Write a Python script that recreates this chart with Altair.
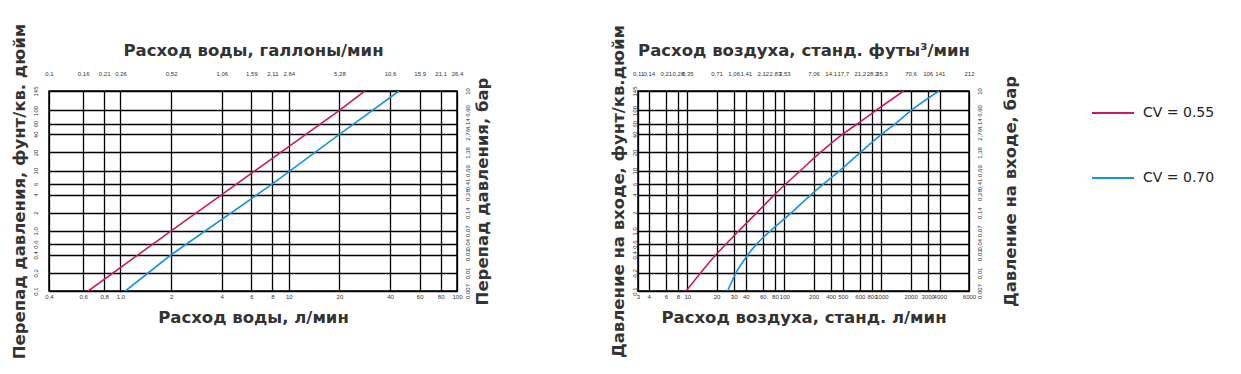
import json
import altair as alt
import pandas as pd

# ---------------- data ----------------
series_names = ["CV = 0.55", "CV = 0.70"]
series_colors = ["#c61a6b", "#1496d7"]

# Water: flow (l/min) vs pressure drop (psi)
water_flow_055 = [0.643, 2, 4, 20, 28.3]
water_dp_055 = [0.1, 1, 4, 100, 210]
water_flow_070 = [1.07, 2, 8, 20, 45.2]
water_dp_070 = [0.1, 0.4, 6, 40, 210]

# Air: flow (std l/min) vs inlet pressure (psi)
air_flow_055 = [9.7, 19.7, 34.0, 52.1, 79.3, 146.6, 235, 396, 569, 880, 1694]
air_p_055 = [0.1, 0.4, 1, 2, 4, 10, 20, 40, 60, 100, 210]
air_flow_070 = [26.0, 31.7, 42.1, 51.7, 72.1, 118.5, 188.7, 372, 608, 1000, 1390, 2031, 3918]
air_p_070 = [0.1, 0.2, 0.4, 0.6, 1, 2, 4, 10, 20, 40, 60, 100, 210]

# Axis ticks and their labels as printed
water_ticks = [0.376, 0.6, 0.8, 1, 2, 4, 6, 8, 10, 20, 40, 60, 80, 100]
water_lpm_labels = ["0,4", "0,6", "0,8", "1,0", "2", "4", "6", "8", "10", "20", "40", "60", "80", "100"]
water_gpm_labels = ["0,1", "0,16", "0,21", "0,26", "0,52", "1,06", "1,59", "2,11", "2,64",
                    "5,28", "10,6", "15,9", "21,1", "26,4"]

air_ticks = [3.1, 4, 6, 8, 10, 20, 30, 40, 60, 80, 100, 200, 300, 400, 600, 800, 1000, 2000, 3000, 4000, 8000]
air_lpm_labels = ["3", "4", "6", "8", "10", "20", "30", "40", "60", "80", "100", "200", "400", "500",
                  "600", "800", "1000", "2000", "3000", "4000", "6000"]
air_scfm_labels = ["0,11", "0,14", "0,21", "0,28", "0,35", "0,71", "1,06", "1,41", "2,12", "2,83", "3,53",
                   "7,06", "14,1", "17,7", "21,2", "28,2", "35,3", "70,6", "106", "141", "212"]

psi_ticks = [0.1, 0.2, 0.4, 0.6, 1, 2, 4, 6, 10, 20, 40, 60, 100, 210]
psi_labels = ["0,1", "0,2", "0,4", "0,6", "1,0", "2", "4", "6", "10", "20", "40", "60", "100", "145"]
bar_labels = ["0,007", "0,01", "0,03", "0,04", "0,07", "0,14", "0,28", "0,41", "0,69", "1,38",
              "2,76", "4,14", "6,90", "10"]


def frame(flows, values, name):
    return [{"flow": f, "p": v, "series": name} for f, v in zip(flows, values)]


def lab(ticks, labels):
    return json.dumps(labels) + "[indexof(" + json.dumps(ticks) + ", datum.value)]"


TITLE_FONT = "DejaVu Sans"
LABEL_FONT = "Liberation Sans"
TSIZE = 16.5
TCOLOR = "#333333"


def panel(df, ticks, bot_labels, top_labels, xdomain, width, bot_title, top_title,
          left_title, right_title, left_lab_pad, right_title_pad, interp):
    xscale = alt.Scale(type="log", domain=xdomain, nice=False)
    yscale = alt.Scale(type="log", domain=[0.1, 210], nice=False)
    color = alt.Color("series:N", scale=alt.Scale(domain=series_names, range=series_colors),
                      legend=alt.Legend(title=None, orient="none", legendX=1042, legendY=0,
                                        symbolType="stroke", symbolSize=1764, symbolStrokeWidth=2,
                                        labelFontSize=14, labelFont="DejaVu Sans", labelColor="#222222",
                                        labelOffset=8, rowPadding=36))
    lines = alt.Chart(df).mark_line(strokeWidth=1.6, clip=True, interpolate=interp).encode(
        x=alt.X("flow:Q", scale=xscale,
                axis=alt.Axis(orient="bottom", values=ticks, labelExpr=lab(ticks, bot_labels),
                              grid=True, title=bot_title, labelPadding=2, titlePadding=10)),
        y=alt.Y("p:Q", scale=yscale,
                axis=alt.Axis(orient="left", values=psi_ticks, labelExpr=lab(psi_ticks, psi_labels),
                              grid=True, title=left_title, labelAngle=270, labelAlign="center",
                              labelBaseline="bottom", labelPadding=left_lab_pad, titlePadding=5)),
        color=color,
    )
    overlay = alt.Chart(df).mark_line(opacity=0).encode(
        x=alt.X("flow:Q", scale=xscale,
                axis=alt.Axis(orient="top", values=ticks, labelExpr=lab(ticks, top_labels),
                              grid=False, title=top_title, labelPadding=15, titlePadding=12)),
        y=alt.Y("p:Q", scale=yscale,
                axis=alt.Axis(orient="right", values=psi_ticks, labelExpr=lab(psi_ticks, bar_labels),
                              grid=False, title=right_title, labelAngle=270, labelAlign="center",
                              labelBaseline="top", labelPadding=7, titleAngle=270,
                              titleBaseline="top", titlePadding=right_title_pad)),
    )
    return alt.layer(lines, overlay).resolve_axis(x="independent", y="independent").properties(
        width=width, height=200)


water_rows = frame(water_flow_055, water_dp_055, series_names[0]) + \
    frame(water_flow_070, water_dp_070, series_names[1])
air_rows = frame(air_flow_055, air_p_055, series_names[0]) + \
    frame(air_flow_070, air_p_070, series_names[1])

left = panel(pd.DataFrame(water_rows), water_ticks, water_lpm_labels, water_gpm_labels,
             [0.376, 100], 408, "Расход воды, л/мин", "Расход воды, галлоны/мин",
             "Перепад давления, фунт/кв. дюйм", "Перепад давления, бар", 11, 4, "linear")
right = panel(pd.DataFrame(air_rows), air_ticks, air_lpm_labels, air_scfm_labels,
              [3.1, 8000], 331, "Расход воздуха, станд. л/мин", "Расход воздуха, станд. футы³/мин",
              "Давление на входе, фунт/кв.дюйм", "Давление на входе, бар", 1, 20, "monotone")

chart = alt.hconcat(left, right, spacing=181, bounds="flush").properties(
    padding={"left": 2, "top": 14, "right": 5, "bottom": 5}
).configure_view(stroke="black", strokeWidth=1.5).configure_axis(
    labelFont=LABEL_FONT, labelFontSize=6, labelColor="#333333",
    titleFont=TITLE_FONT, titleFontSize=TSIZE, titleFontWeight="bold", titleColor=TCOLOR,
    ticks=False, domain=False, gridColor="black", gridWidth=1.3, gridOpacity=1,
    labelOverlap=False, labelFlush=False,
)

chart.save("out.html", embed_options={"renderer": "svg", "actions": False})
